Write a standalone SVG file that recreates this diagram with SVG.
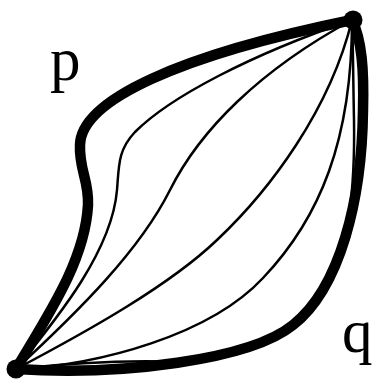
<svg xmlns="http://www.w3.org/2000/svg" width="375" height="380" viewBox="0 0 375 380">
<style>
.thick{fill:none;stroke:#000;stroke-width:10.5;stroke-linecap:round;stroke-linejoin:round}
.thin{fill:none;stroke:#000;stroke-width:2.5;stroke-linecap:round}
.dot{fill:#000}
.lbl{font-family:"Liberation Serif","Times New Roman",serif;font-size:61px;fill:#000}
</style>
<rect width="375" height="380" fill="#fff"/>
<g id="connectors">
<path id="p-path" class="thick" d="M16,369 C50,312 85,260 88,205 C89,180 79,170 80,145 C81,100 180,55 352,20"/>
<path id="q-path" class="thick" d="M16,369 C120,376 250,360 293,325 C340,288 362,200 363,110 C364,70 362,40 352,20"/>
<path id="c1" class="thin" d="M16,369 C60,315 112,250 117,190 C119,165 118,150 135,132 C170,97 250,55 352,20"/>
<path id="c2" class="thin" d="M16,369 C80,310 140,250 170,190 C200,130 260,70 352,20"/>
<path id="c3" class="thin" d="M16,369 C90,330 170,285 217,240 C270,190 330,110 352,20"/>
<path id="c4" class="thin" d="M16,369 C100,365 210,335 263,278 C320,218 352,140 352,20"/>
<path id="c5" class="thin" d="M16,369 C80,362 130,360 180,362 C250,352 300,330 325,292 C350,255 355,180 354,120 C353,70 353,40 352,20"/>
</g>
<g id="node-a"><circle class="dot" cx="16" cy="369" r="9.5"/></g>
<g id="node-b"><circle class="dot" cx="353" cy="20" r="9.5"/></g>
<g id="label-p"><text class="lbl" x="50" y="80">p</text></g>
<g id="label-q"><text class="lbl" x="342" y="352">q</text></g>
</svg>
